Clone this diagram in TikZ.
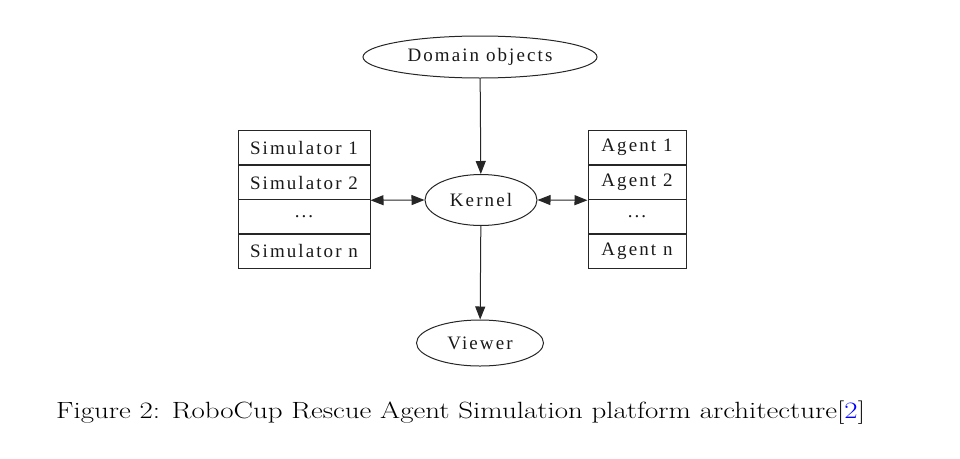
\documentclass[tikz,border=0pt]{standalone}
\usepackage{fontspec}
\usepackage{graphicx}
\usetikzlibrary{shapes.geometric,arrows.meta}
\newfontfamily\gvfont[LetterSpace=11]{Liberation Serif}
\newcommand{\gvt}[1]{#1}
\begin{document}
\begin{tikzpicture}[x=1pt,y=-1pt,
  gvtext/.style={font=\gvfont\fontsize{19}{21}\selectfont, text=black!90},
  ell/.style={gvtext, draw=black!85, line width=1pt, ellipse, inner sep=0pt},
  rec/.style={gvtext, draw=black!85, line width=1pt, rectangle, inner sep=0pt, minimum height=34.5pt},
  gvtip/.tip={Triangle[length=13pt,width=10pt]},
  gvarrow/.style={draw=black!85, line width=1pt, -gvtip},
  gvboth/.style={draw=black!85, line width=1pt, gvtip-gvtip}
]
\useasboundingbox (0,0) rectangle (960,458);
\node[ell, minimum width=234pt, minimum height=42pt] (dom) at (480,57) {\gvt{Domain objects}};
\node[ell, minimum width=112pt, minimum height=51pt] (ker) at (481,200) {\gvt{Kernel}};
\node[ell, minimum width=127pt, minimum height=46pt] (view) at (480,343) {\gvt{Viewer}};

\node[rec, minimum width=132pt] (s1) at (304,147.5) {\gvt{Simulator 1}};
\node[rec, minimum width=132pt] (s2) at (304,182.5) {\gvt{Simulator 2}};
\node[rec, minimum width=132pt] (s3) at (304,217) {\gvt{...}};
\node[rec, minimum width=132pt] (sn) at (304,251) {\gvt{Simulator n}};

\node[rec, minimum width=98pt] (a1) at (637,147.5) {\gvt{Agent 1}};
\node[rec, minimum width=98pt] (a2) at (637,182.5) {\gvt{Agent 2}};
\node[rec, minimum width=98pt] (a3) at (637,217) {\gvt{...}};
\node[rec, minimum width=98pt] (an) at (637,251) {\gvt{Agent n}};

\draw[gvarrow] (dom) -- (ker);
\draw[gvarrow] (ker) -- (view);
\draw[gvboth] (s2.south east) -- (ker.west);
\draw[gvboth] (ker.east) -- (a2.south west);

\node[font=\fontsize{23.5}{28}\selectfont, anchor=base west, inner sep=0pt] (cap) at (56,418) {\scalebox{1.232}[1]{Figure 2: RoboCup Rescue Agent Simulation platform architecture[{\color{blue}2}]}};
\end{tikzpicture}
\end{document}
